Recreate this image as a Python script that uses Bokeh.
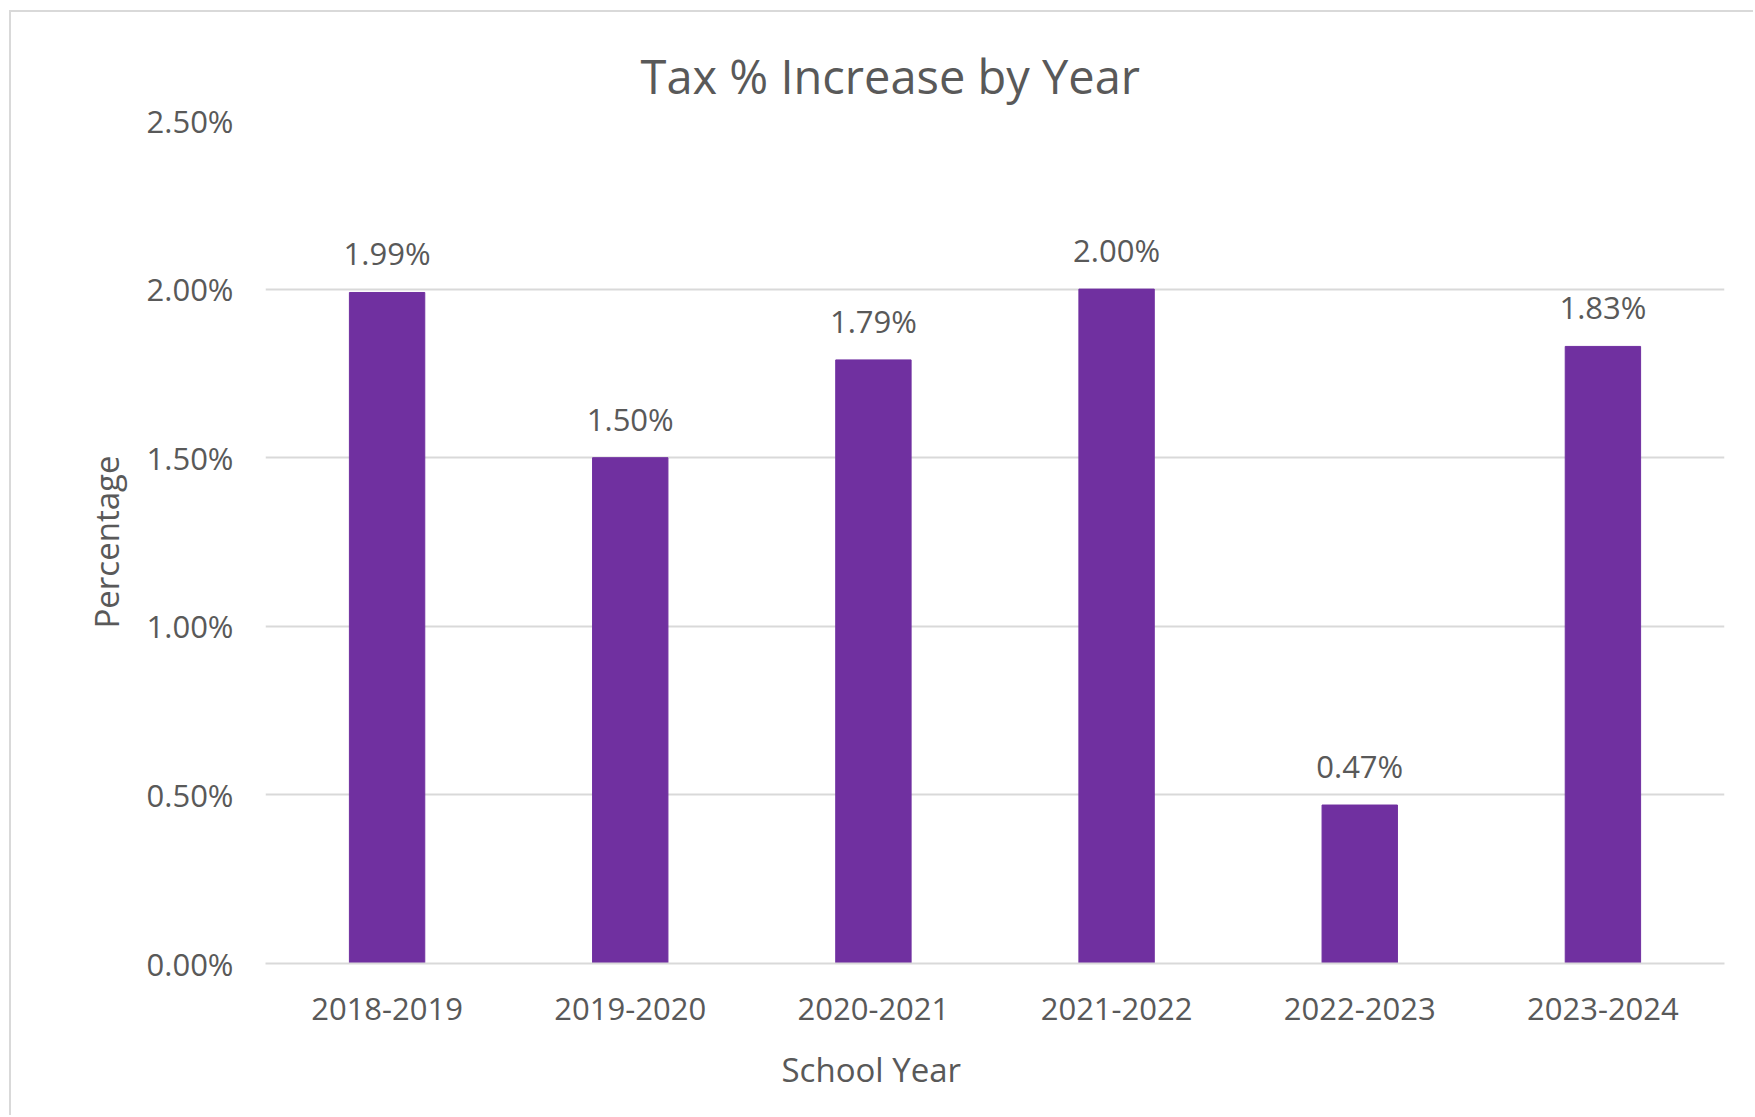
from bokeh.plotting import figure
from bokeh.models import ColumnDataSource, LabelSet, FixedTicker, PrintfTickFormatter, Title, Range1d
from bokeh.core.properties import value
from bokeh.embed import file_html
from bokeh.resources import INLINE

years = ["2018-2019", "2019-2020", "2020-2021", "2021-2022", "2022-2023", "2023-2024"]
values = [1.99, 1.50, 1.79, 2.00, 0.47, 1.83]
value_labels = ["1.99%", "1.50%", "1.79%", "2.00%", "0.47%", "1.83%"]
y_ticks = [0.0, 0.5, 1.0, 1.5, 2.0, 2.5]

FONT = "Open Sans"
TXT = "#595959"
GRID = "#d9d9d9"

src = ColumnDataSource(dict(year=years, value=values, label=value_labels))

p = figure(width=1744, height=1105, x_range=years, y_range=Range1d(0, 2.5),
           output_backend="svg", toolbar_location=None,
           min_border_left=254, min_border_top=108, min_border_right=31, min_border_bottom=154,
           styles={"margin-left": "9px", "margin-top": "10px",
                   "border-left": "2px solid #d9d9d9", "border-top": "2px solid #d9d9d9"})
p.outline_line_color = None
p.background_fill_color = "white"
p.border_fill_color = "white"

t = Title(text="Tax % Increase by Year", align="left", offset=375, text_font=FONT,
          text_font_size="47px", text_font_style="normal", text_color=TXT, standoff=26)
p.add_layout(t, "above")

# x-axis title, offset to sit under the third category as in the original
xt = Title(text="School Year", align="left", offset=516, text_font=FONT,
           text_font_size="33px", text_font_style="normal", text_color=TXT, standoff=45)
p.add_layout(xt, "below")

p.vbar(x="year", top="value", width=0.31, source=src, color="#7030A0")

labels = LabelSet(x="year", y="value", text="label", source=src, text_align="center",
                  text_baseline="alphabetic", y_offset=27, text_font=value(FONT),
                  text_font_size=value("31px"), text_color=TXT)
p.add_layout(labels)

p.yaxis.ticker = FixedTicker(ticks=y_ticks)
p.yaxis.formatter = PrintfTickFormatter(format="%.2f%%")
p.yaxis.axis_line_color = None
p.yaxis.major_tick_line_color = None
p.yaxis.minor_tick_line_color = None
p.yaxis.major_label_standoff = 26
p.yaxis.axis_label = "Percentage"
p.yaxis.axis_label_standoff = 15
p.xaxis.axis_line_color = GRID
p.xaxis.axis_line_width = 2
p.xaxis.major_tick_line_color = None
p.xaxis.minor_tick_line_color = None
p.xaxis.major_label_standoff = 28

for ax in (p.xaxis, p.yaxis):
    ax.major_label_text_font = FONT
    ax.major_label_text_font_size = "31px"
    ax.major_label_text_color = TXT
    ax.axis_label_text_font = FONT
    ax.axis_label_text_font_size = "33px"
    ax.axis_label_text_font_style = "normal"
    ax.axis_label_text_color = TXT

p.xgrid.grid_line_color = None
p.ygrid.grid_line_color = GRID
p.ygrid.grid_line_width = 2

open("out.html", "w").write(file_html(p, INLINE))
